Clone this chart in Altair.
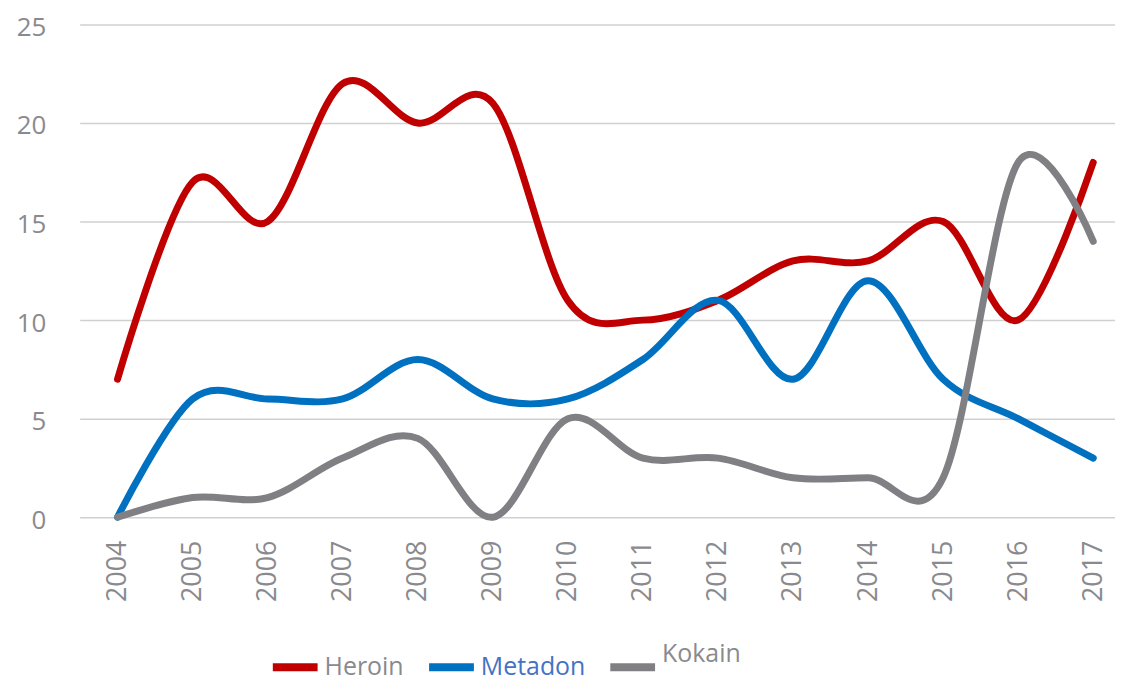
import altair as alt
import pandas as pd

years = list(range(2004, 2018))
heroin = [7, 17, 15, 22, 20, 21, 11, 10, 11, 13, 13, 15, 10, 18]
metadon = [0, 6, 6, 6, 8, 6, 6, 8, 11, 7, 12, 7, 5, 3]
kokain = [0, 1, 1, 3, 4, 0, 5, 3, 3, 2, 2, 2, 18, 14]
series = ["Heroin", "Metadon", "Kokain"]
colors = ["#C00000", "#0070C0", "#808084"]
y_ticks = [0, 5, 10, 15, 20, 25]

rows = []
for name, vals in zip(series, [heroin, metadon, kokain]):
    for yr, v in zip(years, vals):
        rows.append({"year": yr, "value": v, "drug": name})
df = pd.DataFrame(rows)

FONT = "Open Sans"
GRAY = "#8a8a8e"

chart = alt.Chart(df).mark_line(
    interpolate="cardinal", strokeWidth=7, strokeCap="round", strokeJoin="round"
).encode(
    x=alt.X("year:Q",
            scale=alt.Scale(domain=[2003.496, 2017.29], nice=False, zero=False),
            axis=alt.Axis(values=years, format="d", labelAngle=-90, labelAlign="right",
                          labelBaseline="middle", labelPadding=23, ticks=False, domain=False,
                          grid=False, title=None, labelFontSize=27, labelColor=GRAY,
                          labelFont=FONT, labelOverlap=False)),
    y=alt.Y("value:Q",
            scale=alt.Scale(domain=[0, 25], nice=False),
            axis=alt.Axis(values=y_ticks, ticks=False, domain=False, grid=True,
                          gridColor="#d0d0d0", gridWidth=1.5, title=None,
                          labelFontSize=26, labelColor=GRAY, labelFont=FONT,
                          labelPadding=34, labelOffset=3)),
    color=alt.Color("drug:N",
                    scale=alt.Scale(domain=series, range=colors),
                    sort=series,
                    legend=alt.Legend(
                        title=None, orient="none", direction="horizontal",
                        legendX=190, legendY=619,
                        symbolType="stroke", symbolSize=2025, symbolStrokeWidth=8,
                        labelFontSize=25, labelFont=FONT,
                        labelColor=alt.ExprRef("datum.label === 'Metadon' ? '#4472C4' : '#8a8a8e'"),
                        labelBaseline=alt.ExprRef("datum.label === 'Kokain' ? 'bottom' : 'middle'"),
                        labelOffset=3, columnPadding=9, symbolLimit=0,
                    )),
).properties(
    width=1040, height=495,
    autosize=alt.AutoSizeParams(type="none"),
    padding={"left": 72, "top": 15, "right": 0, "bottom": 165},
).configure_view(stroke=None)

chart.save("out.html", embed_options={"renderer": "svg", "actions": False})
